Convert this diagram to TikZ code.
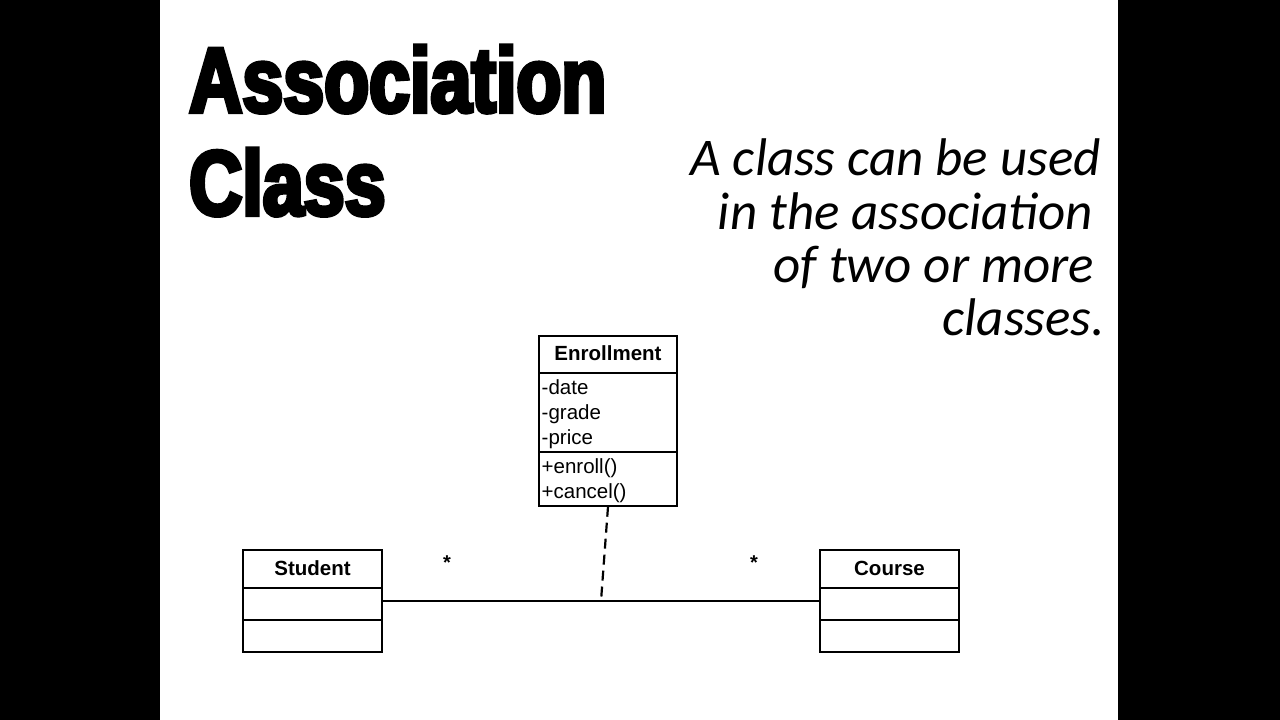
\documentclass[tikz,border=0pt]{standalone}
\usepackage{fontspec}
\setmainfont{Liberation Sans}
\newfontfamily\titlefont{Liberation Sans}[BoldFeatures={FakeStretch=0.8,FakeBold=4.5}]
\newfontfamily\bodyfont{Carlito}
\begin{document}
\begin{tikzpicture}[x=1pt,y=-1pt,
  classbox/.style={draw=black,line width=1.5pt,fill=white,rectangle,inner sep=0pt},
  divider/.style={draw=black,line width=1.5pt},
  cname/.style={font=\fontsize{20.5}{24}\selectfont\bfseries,inner sep=0pt},
  member/.style={font=\fontsize{20.5}{24}\selectfont,anchor=base west,inner sep=0pt},
  titletext/.style={font=\titlefont\fontsize{92}{100}\selectfont\bfseries,anchor=base west,inner sep=0pt},
  bodytext/.style={font=\bodyfont\itshape\fontsize{53}{55}\selectfont,anchor=base east,inner sep=0pt},
  assoc/.style={draw=black,line width=1.3pt},
  assocdash/.style={draw=black,line width=2.2pt,dash pattern=on 10pt off 6pt},
  mult/.style={font=\fontsize{20}{24}\selectfont\bfseries,inner sep=0pt}]
\useasboundingbox (0,0) rectangle (1280,720);
\fill[black] (0,0) rectangle (1280,720);
\fill[white] (160,0) rectangle (1118,720);

% title
\node[titletext] (t1) at (189,112) {Association};
\node[titletext] (t2) at (189,215) {Class};

% right text
\node[bodytext] (b1) at (1101,175) {A class can be used};
\node[bodytext] (b2) at (1093,229) {in the association};
\node[bodytext] (b3) at (1094,282) {of two or more};
\node[bodytext] (b4) at (1105,335) {classes.};

% Student
\node[classbox,minimum width=139pt,minimum height=102pt] (student) at (312.5,601) {};
\draw[divider] (243,588) -- (382,588);
\draw[divider] (243,620) -- (382,620);
\node[cname] (sname) at (312.5,568) {Student};

% Course
\node[classbox,minimum width=139pt,minimum height=102pt] (course) at (889.5,601) {};
\draw[divider] (820,588) -- (959,588);
\draw[divider] (820,620) -- (959,620);
\node[cname] (cname) at (889.5,568) {Course};

% Enrollment
\node[classbox,minimum width=138pt,minimum height=170pt] (enroll) at (608,421) {};
\draw[divider] (539,373) -- (677,373);
\draw[divider] (539,452) -- (677,452);
\node[cname] (ename) at (608,353) {Enrollment};
\node[member] (m1) at (541.5,394) {-date};
\node[member] (m2) at (541.5,419) {-grade};
\node[member] (m3) at (541.5,444) {-price};
\node[member] (m4) at (541.5,473) {+enroll()};
\node[member] (m5) at (541.5,498) {+cancel()};

% association
\draw[assoc] (student.east) -- (course.west);
\coordinate (mid) at (601,601);
\draw[assocdash] (enroll.south) -- (mid);

\node[mult] (s1) at (447,563) {*};
\node[mult] (s2) at (754,563) {*};
\end{tikzpicture}
\end{document}
